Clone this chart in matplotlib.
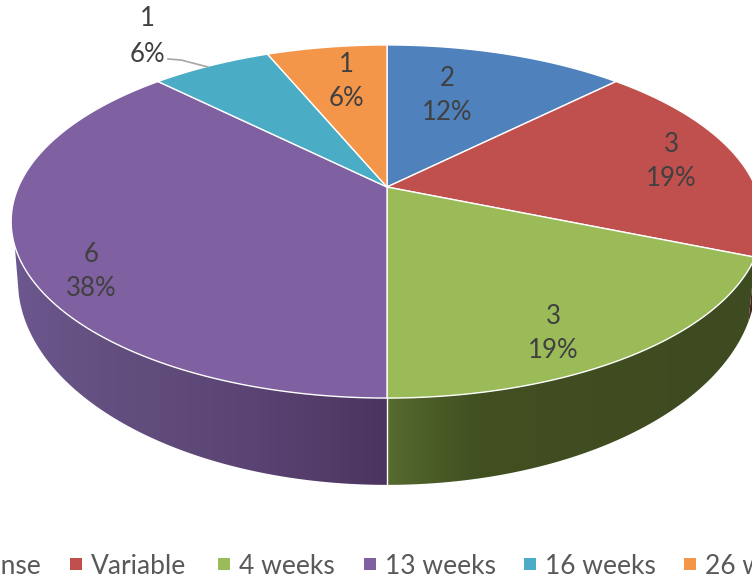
import numpy as np
import matplotlib
matplotlib.use('Agg')
import matplotlib.pyplot as plt
from matplotlib.patches import Polygon, Rectangle

plt.rcParams['font.family'] = ['Lato', 'DejaVu Sans']

# Chart data
categories = ["No response", "Variable", "4 weeks", "13 weeks", "16 weeks", "26 weeks"]
counts = [2, 3, 3, 6, 1, 1]
colors = ["#4f81bd", "#c0504d", "#9bbb59", "#7f60a0", "#4bacc6", "#f4964a"]

# label centres in pixels, (count line, percent line)
label_pos = [(447, 79, 113), (671, 145, 179), (553, 317, 351),
             (91, 255, 289), (147, 18, 54), (346, 64, 98)]
legend_x = [41, 70, 218, 364, 524, 684]

# perspective of the pie, pixels
cx = 387
k = 0.1955                 # perspective strength
top = (187, 368.6, 169.8)  # apex y, half width, half height
bottom = (240, 362.0, 197.0)


def rim(theta, geom):
    # theta in degrees clockwise from 12 o'clock
    y0, a, b = geom
    t = np.radians(theta)
    w = 1 + k * np.cos(t)
    return cx + a * np.sin(t) / w, y0 - b * np.cos(t) / w


def side(t1, t2_top, t2_bottom, xs, cols):
    # side wall: horizontal gradient clipped to the wall outline
    rgb = np.array([matplotlib.colors.to_rgb(c) for c in cols])
    grid = np.arange(752) + 0.5
    img = np.stack([np.interp(grid, xs, rgb[:, i]) for i in range(3)], axis=-1)[np.newaxis, :, :]
    x1, y1 = rim(np.linspace(t1, t2_top, 200), top)
    x2, y2 = rim(np.linspace(t2_bottom, t1, 200), bottom)
    outline = Polygon(list(zip(x1, y1)) + list(zip(x2, y2)), closed=True,
                      transform=ax.transData, facecolor='none', edgecolor='none')
    ax.add_patch(outline)
    im = ax.imshow(img, extent=(0, 752, 580, 0), aspect='auto', zorder=1, interpolation='bilinear')
    im.set_clip_path(outline)


fig = plt.figure(figsize=(7.52, 5.8), dpi=100)
ax = fig.add_axes([0, 0, 1, 1])

bounds = 360 * np.cumsum([0] + counts) / sum(counts)

# side walls first, top covers what is left over
side(bounds[1], bounds[2], bounds[2], [700, 760], ["#5a2a28", "#4a1f1e"])
side(bounds[2], bounds[3], bounds[3], [387, 420, 480, 760], ["#576c30", "#4e6029", "#414f21", "#3e4a20"])
side(bounds[3], 251, 255, [10, 100, 250, 340, 387], ["#6d5790", "#645080", "#5a4474", "#523a66", "#4a3560"])
ax.plot([cx, cx], [rim(180, top)[1], rim(180, bottom)[1]], color='white', lw=1, zorder=2)

# top face
for i, col in enumerate(colors):
    angles = np.linspace(bounds[i], bounds[i + 1], 120)
    xs, ys = rim(angles, top)
    pts = [(cx, top[0])] + list(zip(xs, ys))
    ax.add_patch(Polygon(pts, closed=True, facecolor=col, edgecolor='white', lw=1.0, zorder=3))

# data labels
pct = [100 * c / sum(counts) for c in counts]
for (x, y1, y2), c, p in zip(label_pos, counts, pct):
    ax.text(x, y1, str(c), ha='center', va='center', fontsize=18.5, color='#404040', zorder=5)
    ax.text(x, y2, f"{p:.0f}%", ha='center', va='center', fontsize=18.5, color='#404040', zorder=5)

# leader line for the 16 weeks label
ax.plot([168, 181, 208], [59, 60, 67], color='#a6a6a6', lw=1.2, zorder=5)

# legend is cut by the figure edge on both sides
for i, (name, col) in enumerate(zip(categories, colors)):
    if i == 0:
        ax.text(legend_x[i], 574, name, ha='right', va='baseline', fontsize=19, color='#595959')
        continue
    ax.add_patch(Rectangle((legend_x[i], 558), 12, 12, facecolor=col, edgecolor='none'))
    ax.text(legend_x[i] + 21, 574, name, ha='left', va='baseline', fontsize=19, color='#595959')

ax.set_xlim(0, 752)
ax.set_ylim(580, 0)
ax.axis('off')

fig.savefig('out.png', dpi=100)
